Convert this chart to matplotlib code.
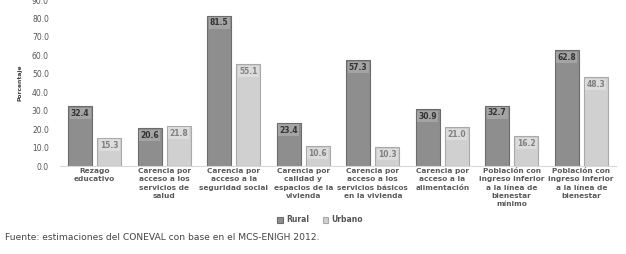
import numpy as np
import matplotlib
matplotlib.use("Agg")
import matplotlib.pyplot as plt

categories = [
    "Rezago\neducativo",
    "Carencia por\nacceso a los\nservicios de\nsalud",
    "Carencia por\nacceso a la\nseguridad social",
    "Carencia por\ncalidad y\nespacios de la\nvivienda",
    "Carencia por\nacceso a los\nservicios básicos\nen la vivienda",
    "Carencia por\nacceso a la\nalimentación",
    "Población con\ningreso inferior\na la línea de\nbienestar\nmínimo",
    "Población con\ningreso inferior\na la línea de\nbienestar",
]
rural = [32.4, 20.6, 81.5, 23.4, 57.3, 30.9, 32.7, 62.8]
urbano = [15.3, 21.8, 55.1, 10.6, 10.3, 21.0, 16.2, 48.3]
yticks = np.arange(0, 91, 10)

fig = plt.figure(figsize=(6.26, 2.54), dpi=100)
ax = fig.add_axes([60 / 626, 1 - 166 / 254, 556 / 626, 166 / 254])

x = np.arange(len(categories))
w = 0.345
off = 0.21
ax.bar(x - off, rural, w, color="#8e8e8e", edgecolor="#6c6c6c", linewidth=0.8, label="Rural")
ax.bar(x + off, urbano, w, color="#d0d0d0", edgecolor="#a9a9a9", linewidth=0.8, label="Urbano")

for xi, v in zip(x, rural):
    ax.text(xi - off, v - 1.5, f"{v:.1f}", ha="center", va="top", fontsize=5.5,
            fontweight="bold", color="#333333",
            bbox=dict(boxstyle="square,pad=0.15", fc="#a4a4a4", ec="none"))
for xi, v in zip(x, urbano):
    ax.text(xi + off, v - 1.5, f"{v:.1f}", ha="center", va="top", fontsize=5.5,
            fontweight="bold", color="#808080",
            bbox=dict(boxstyle="square,pad=0.15", fc="#dcdcdc", ec="none"))

ax.set_xlim(-0.5, len(categories) - 0.5)
ax.set_ylim(0, 90)
ax.set_yticks(yticks)
ax.set_yticklabels([f"{t:.1f}" for t in yticks], fontsize=5.5, color="#555555")
ax.set_xticks(x)
ax.set_xticklabels(categories, fontsize=5.3, fontweight="bold", color="#5a5a5a",
                   linespacing=1.45, va="top")
ax.tick_params(axis="y", length=0, pad=8)
ax.tick_params(axis="x", length=0, pad=1.5)
for s in ["top", "right", "left"]:
    ax.spines[s].set_visible(False)
ax.spines["bottom"].set_color("#d8d8d8")
ax.set_ylabel("Porcentaje", fontsize=4.3, fontweight="bold", color="#444444", labelpad=7)

fig.legend(loc="center", bbox_to_anchor=(320 / 626, 1 - 220 / 254), ncol=2, frameon=False,
           handlelength=0.7, handleheight=0.7, columnspacing=1.8,
           handletextpad=0.4, prop=dict(size=5.5, weight="bold"), labelcolor="#555555")

fig.text(5 / 626, 1 - 238 / 254, "Fuente: estimaciones del CONEVAL con base en el MCS-ENIGH 2012.",
         fontsize=6.6, color="#444444", va="center", ha="left")

fig.savefig("out.png", dpi=100)
